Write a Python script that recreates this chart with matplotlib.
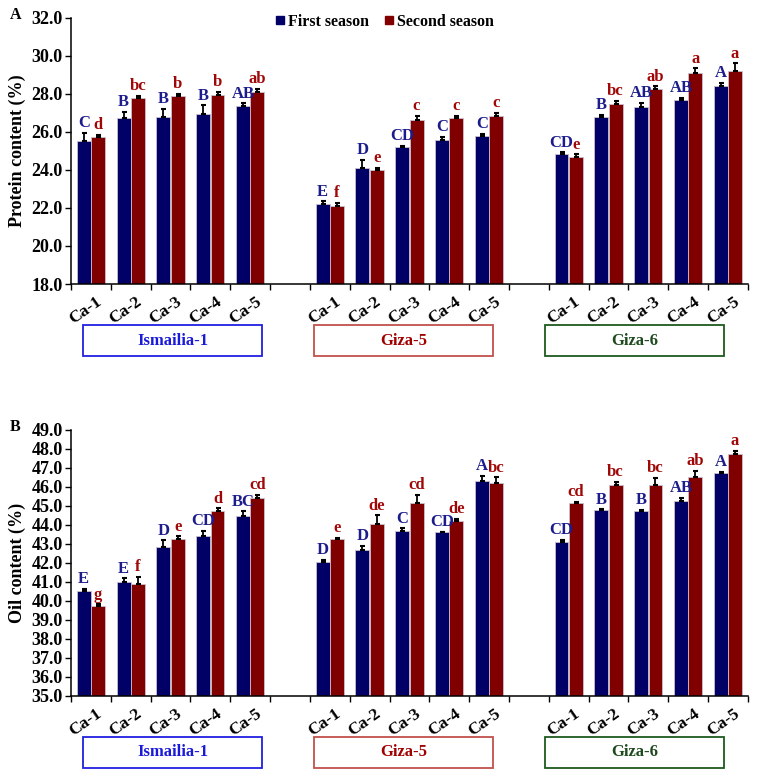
import matplotlib
matplotlib.use("Agg")
import matplotlib.pyplot as plt
from matplotlib.patches import Rectangle
from matplotlib.lines import Line2D
import numpy as np

plt.rcParams['font.family'] = ['Liberation Serif', 'DejaVu Serif']
plt.rcParams['font.weight'] = 'bold'

groups = ['Ismailia-1', 'Giza-5', 'Giza-6']
treatments = ['Ca-1', 'Ca-2', 'Ca-3', 'Ca-4', 'Ca-5']
seasons = ['First season', 'Second season']

protein_s1 = [25.54, 26.71, 26.81, 26.95, 27.36, 22.21, 24.10, 25.19, 25.56, 25.79,
              24.82, 26.77, 27.33, 27.68, 28.44]
protein_s1_err = [0.40, 0.35, 0.42, 0.44, 0.14, 0.14, 0.42, 0.09, 0.19, 0.12,
                  0.10, 0.14, 0.19, 0.12, 0.14]
protein_s2 = [25.72, 27.77, 27.90, 27.93, 28.09, 22.12, 23.98, 26.61, 26.74, 26.83,
              24.68, 27.47, 28.25, 29.11, 29.23]
protein_s2_err = [0.14, 0.12, 0.10, 0.18, 0.17, 0.16, 0.14, 0.25, 0.09, 0.19,
                  0.14, 0.18, 0.14, 0.23, 0.37]
protein_s1_letters = ['C', 'B', 'B', 'B', 'AB', 'E', 'D', 'CD', 'C', 'C',
                      'CD', 'B', 'AB', 'AB', 'A']
protein_s2_letters = ['d', 'bc', 'b', 'b', 'ab', 'f', 'e', 'c', 'c', 'c',
                      'e', 'bc', 'ab', 'a', 'a']

oil_s1 = [40.51, 41.00, 42.84, 43.44, 44.47, 42.07, 42.65, 43.68, 43.60, 46.33,
          43.09, 44.77, 44.74, 45.28, 46.74]
oil_s1_err = [0.12, 0.18, 0.35, 0.23, 0.25, 0.10, 0.23, 0.14, 0.05, 0.26,
              0.12, 0.05, 0.04, 0.14, 0.05]
oil_s2 = [39.72, 40.91, 43.28, 44.74, 45.39, 43.23, 44.02, 45.16, 44.23, 46.19,
          45.14, 46.12, 46.11, 46.54, 47.74]
oil_s2_err = [0.09, 0.35, 0.12, 0.14, 0.18, 0.09, 0.49, 0.44, 0.10, 0.32,
              0.09, 0.14, 0.37, 0.32, 0.16]
oil_s1_letters = ['E', 'E', 'D', 'CD', 'BC', 'D', 'D', 'C', 'CD', 'A',
                  'CD', 'B', 'B', 'AB', 'A']
oil_s2_letters = ['g', 'f', 'e', 'd', 'cd', 'e', 'de', 'cd', 'de', 'bc',
                  'cd', 'bc', 'bc', 'ab', 'a']

BAR_COLORS = ['#000066', '#800000']
LETTER_COLORS = ['#1c1c8c', '#a00808']
BOX_EDGE = ['#2020e0', '#c0504d', '#1e5a1e']
BOX_TEXT = ['#1a1ad8', '#a00000', '#1e4a1e']
BOX_CENTERS = [2.05, 7.85, 13.65]  # boxes are a bit off-centre in the original

# x positions: 5 treatments per cultivar, one empty slot between cultivars
x = np.array([g * 6 + c for g in range(len(groups)) for c in range(len(treatments))])
W = 0.35
OFF = 0.18


def draw_panel(ax, s1, e1, s2, e2, l1, l2, ylim, step, ylabel, tag):
    vals = [s1, s2]
    errs = [e1, e2]
    letters = [l1, l2]
    for k, sign in enumerate([-1, 1]):
        xs = x + sign * OFF
        ax.bar(xs, vals[k], W, color=BAR_COLORS[k], edgecolor='#cbbfcf',
               linewidth=0.6, zorder=2)
        ax.errorbar(xs, vals[k], yerr=[np.zeros(len(errs[k])), errs[k]], fmt='none',
                    ecolor='black', elinewidth=1.3, capsize=1.8, capthick=1.5, zorder=3)
        for xi, v, e, t in zip(xs, vals[k], errs[k], letters[k]):
            ax.annotate(t, (xi, v + e), xytext=(0, 1.2), textcoords='offset points',
                        ha='center', va='bottom', fontsize=12, fontweight='bold',
                        color=LETTER_COLORS[k], zorder=4)

    ax.set_ylim(*ylim)
    ax.set_yticks(np.arange(ylim[0], ylim[1] + 0.01, step))
    ax.yaxis.set_major_formatter(matplotlib.ticker.FormatStrFormatter('%.1f'))
    ax.set_xlim(-0.5, 16.5)
    ax.set_xticks(x)
    ax.set_xticklabels(treatments * len(groups), rotation=35, ha='right',
                       rotation_mode='anchor', fontsize=12.5, fontweight='bold')
    ax.set_xticks(np.arange(-0.5, 17, 1), minor=True)
    ax.tick_params(axis='x', which='major', length=0, pad=7)
    ax.tick_params(axis='x', which='minor', length=4, width=1, direction='out')
    ax.tick_params(axis='y', length=4, width=1, direction='out', labelsize=13, pad=2)
    for lab in ax.get_yticklabels():
        lab.set_fontweight('bold')
    for lab in ax.get_xticklabels():
        lab.set_transform(lab.get_transform() + matplotlib.transforms.ScaledTranslation(
            5 / 100, 0, ax.figure.dpi_scale_trans))
    ax.spines['top'].set_visible(False)
    ax.spines['right'].set_visible(False)
    ax.spines['left'].set_linewidth(1.1)
    ax.spines['bottom'].set_linewidth(1.1)
    ax.set_ylabel(ylabel, fontsize=13, fontweight='bold', labelpad=4)
    ax.text(-0.082, 1.01, tag, transform=ax.transAxes, fontsize=11.5, fontweight='bold',
            ha='center', va='center')

    trans = matplotlib.transforms.blended_transform_factory(ax.transData, ax.transAxes)
    for g, name in enumerate(groups):
        bw = 4.5
        ax.add_patch(Rectangle((BOX_CENTERS[g] - bw / 2, -0.272), bw, 0.117,
                               transform=trans, fill=False, edgecolor=BOX_EDGE[g],
                               linewidth=1.3, clip_on=False))
        ax.text(BOX_CENTERS[g], -0.2135, name, transform=trans, ha='center', va='center',
                fontsize=12, fontweight='bold', color=BOX_TEXT[g])


fig = plt.figure(figsize=(7.6, 7.76), dpi=100)
ax1 = fig.add_axes([0.0934, 0.634, 0.8906, 0.343])
ax2 = fig.add_axes([0.0934, 0.1035, 0.8906, 0.3424])

draw_panel(ax1, protein_s1, protein_s1_err, protein_s2, protein_s2_err,
           protein_s1_letters, protein_s2_letters, (18, 32), 2, 'Protein content (%)', 'A')
draw_panel(ax2, oil_s1, oil_s1_err, oil_s2, oil_s2_err,
           oil_s1_letters, oil_s2_letters, (35, 49), 1, 'Oil content (%)', 'B')

handles = [Line2D([], [], marker='s', linestyle='none', markersize=6,
                  color=c) for c in BAR_COLORS]
fig.legend(handles, seasons, loc='center', bbox_to_anchor=(0.505, 0.972), ncol=2,
           frameon=False, handletextpad=0.1, columnspacing=0.9,
           handlelength=0.8, prop={'weight': 'bold', 'size': 11.5})

fig.savefig('out.png', dpi=100)
